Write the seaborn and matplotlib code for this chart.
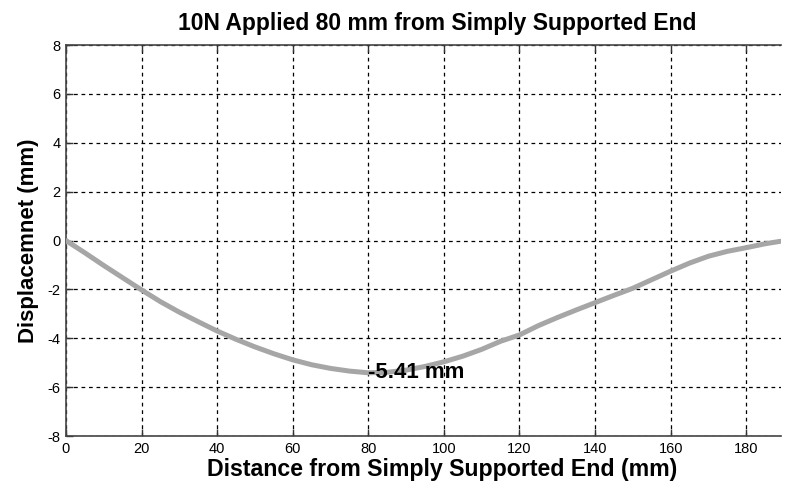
import numpy as np
import pandas as pd
import matplotlib
matplotlib.use("Agg")
import matplotlib.pyplot as plt
import seaborn as sns

# beam deflection (mm)
distance = [0, 5, 10, 15, 20, 25, 30, 35, 40, 45, 50, 55, 60, 65, 70, 75, 80,
            85, 90, 95, 100, 105, 110, 115, 120, 125, 130, 135, 140, 145, 150,
            155, 160, 165, 170, 175, 180, 185, 189]
displacement = [0, -0.50, -1.02, -1.52, -2.02, -2.50, -2.93, -3.32, -3.70,
                -4.04, -4.35, -4.63, -4.88, -5.08, -5.23, -5.34, -5.41, -5.39,
                -5.30, -5.15, -4.96, -4.73, -4.45, -4.12, -3.86, -3.48, -3.15,
                -2.84, -2.54, -2.24, -1.95, -1.60, -1.25, -0.92, -0.64, -0.44,
                -0.29, -0.13, -0.03]
x_ticks = [0, 20, 40, 60, 80, 100, 120, 140, 160, 180]
y_ticks = [-8, -6, -4, -2, 0, 2, 4, 6, 8]
max_label = "-5.41 mm"
max_x, max_y = 80, -5.41

df = pd.DataFrame({"distance": distance, "displacement": displacement})

sns.set_style("white")
plt.rcParams['font.family'] = ['Liberation Sans', 'DejaVu Sans']
plt.rcParams['axes.unicode_minus'] = False
plt.rcParams['text.color'] = 'black'
plt.rcParams['axes.labelcolor'] = 'black'

fig = plt.figure(figsize=(7.95, 4.9), dpi=100)
ax = fig.add_axes([0.083, 0.110, 0.8994, 0.798])

sns.lineplot(data=df, x="distance", y="displacement", ax=ax,
             color="#a6a6a6", linewidth=3.6, zorder=3)

ax.set_xlim(0, 189.2)
ax.set_ylim(-8, 8)
ax.set_xticks(x_ticks)
ax.set_yticks(y_ticks)
ax.grid(True, color="black", linestyle=(0, (3, 3)), linewidth=0.9)
ax.tick_params(direction="in", length=5, width=1, colors="#333333",
               labelcolor="black", labelsize=10.5, pad=4,
               top=True, bottom=True, left=True)

for side in ["left", "bottom", "top"]:
    ax.spines[side].set_color("#444444")
    ax.spines[side].set_linewidth(1.2)
ax.spines["right"].set_visible(False)

ax.text(max_x, max_y, max_label, fontsize=16, fontweight="bold",
        color="black", ha="left", va="center", zorder=4)

# the original figure's axes ran a little past the crop, so centre text a bit right
ax.set_title("10N Applied 80 mm from Simply Supported End",
             fontsize=16.5, fontweight="bold", color="black", pad=11, x=0.519)
ax.set_xlabel("Distance from Simply Supported End (mm)",
              fontsize=16.7, fontweight="bold", labelpad=4)
ax.xaxis.set_label_coords(0.526, -0.055, transform=ax.transAxes)
ax.xaxis.label.set_va("top")
ax.set_ylabel("Displacemnet (mm)", fontsize=16, fontweight="bold",
              labelpad=6)

fig.savefig("out.png", dpi=100)
